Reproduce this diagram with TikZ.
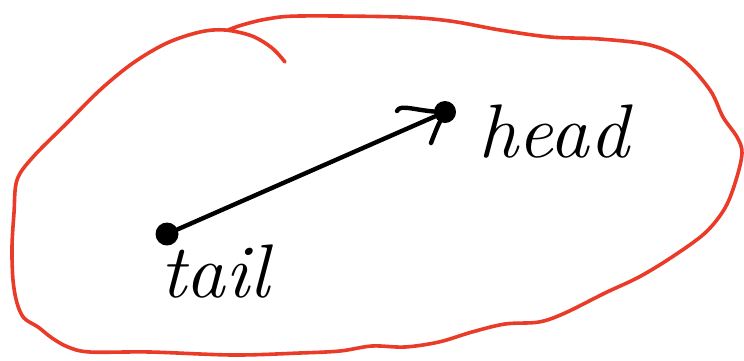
\documentclass[tikz,border=0pt]{standalone}
\usepackage{fontspec}
\definecolor{sketchred}{RGB}{234,58,40}
\tikzset{
  outline/.style={draw=sketchred, line width=3.6pt, line cap=round, line join=round},
  ink/.style={draw=black, line width=4.4pt, line cap=round, line join=round},
  dot/.style={circle, fill=black, inner sep=0pt, minimum size=23pt},
  hand/.style={font=\itshape\fontsize{66}{66}\selectfont, inner sep=0pt, xscale=1.2, yscale=1.15, anchor=base west},
}
\begin{document}
\begin{tikzpicture}[x=1pt,y=-1pt]
\useasboundingbox (0,0) rectangle (744,360);
% red blob outline with the little hook at top
\draw[outline] plot[smooth, tension=0.55] coordinates {
  (285,62) (272,48) (252,36) (225,30) (200,32) (167,43) (133,63) (100,90)
  (67,123) (33,157) (17,180) (14,213) (12,247) (13,280) (17,303) (24,318)
  (38,327) (52,338) (68,347) (90,352) (150,352) (233,355) (300,353)
  (340,351) (372,346) (405,347) (439,342) (472,332) (505,324) (539,322)
  (565,313) (605,293) (639,277) (672,257) (705,233) (725,208) (736,180)
  (742,153) (737,137) (723,117) (710,90) (683,60) (650,45) (600,39)
  (550,37) (500,30) (450,21) (400,17) (300,16) (267,19) (242,25) (228,30)
};
% vector
\node[dot] (tail) at (167,234) {};
\node[dot, minimum size=22pt] (head) at (445,112) {};
\draw[ink] (tail) -- (head);
\coordinate (b1) at (397,111);
\coordinate (b2) at (431,143);
\draw[ink] (b1) .. controls (400,103) and (418,112) .. (head.center);
\draw[ink] (head.center) .. controls (438,125) .. (b2);
% labels
\node[hand] (headlabel) at (478,157) {head};
\node[hand] (taillabel) at (160,297) {tail};
\end{tikzpicture}
\end{document}
